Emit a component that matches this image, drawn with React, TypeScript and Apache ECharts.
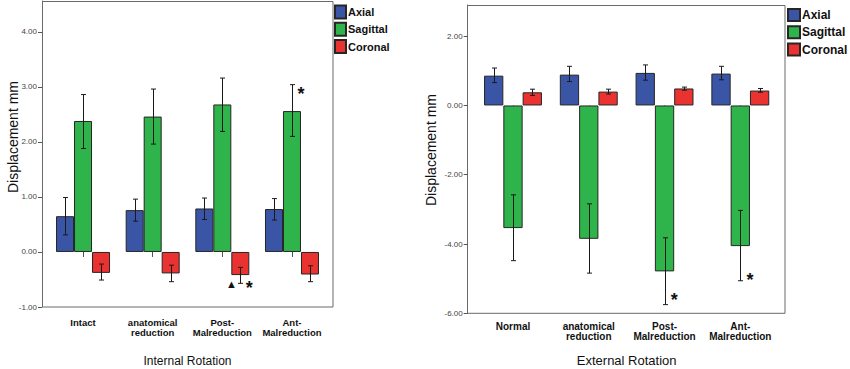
import React, { useEffect, useRef } from "react";
import * as echarts from "echarts";

const seriesNames = ["Axial", "Sagittal", "Coronal"];
const seriesColors = ["#3a55a6", "#2fb34b", "#ea3330"];

const categoriesIR = ["Intact", "anatomical\nreduction", "Post-\nMalreduction", "Ant-\nMalreduction"];
const categoriesER = ["Normal", "anatomical\nreduction", "Post-\nMalreduction", "Ant-\nMalreduction"];

// Internal rotation (means, lower / upper error)
const axialIR = [0.65, 0.76, 0.79, 0.78];
const axialIRLow = [0.31, 0.56, 0.59, 0.58];
const axialIRHigh = [0.99, 0.96, 0.98, 0.97];
const sagittalIR = [2.38, 2.46, 2.68, 2.56];
const sagittalIRLow = [1.88, 1.96, 2.19, 2.1];
const sagittalIRHigh = [2.86, 2.96, 3.16, 3.04];
const coronalIR = [-0.38, -0.39, -0.42, -0.41];
const coronalIRLow = [-0.51, -0.54, -0.57, -0.54];
const coronalIRHigh = [-0.22, -0.24, -0.28, -0.25];

// External rotation
const axialER = [0.86, 0.89, 0.94, 0.92];
const axialERLow = [0.66, 0.69, 0.73, 0.74];
const axialERHigh = [1.08, 1.13, 1.17, 1.13];
const sagittalER = [-3.54, -3.85, -4.79, -4.06];
const sagittalERLow = [-4.48, -4.84, -5.75, -5.06];
const sagittalERHigh = [-2.58, -2.84, -3.82, -3.03];
const coronalER = [0.38, 0.4, 0.49, 0.43];
const coronalERLow = [0.29, 0.33, 0.44, 0.38];
const coronalERHigh = [0.47, 0.47, 0.53, 0.49];

// annotations: [category, value, series, side, symbol]
const annotationsIR: [number, number, number, number, string][] = [
  [3, 2.95, 1, 1, "*"],
  [2, -0.58, 2, -1, "▲"],
  [2, -0.58, 2, 1, "*"],
];
const annotationsER: [number, number, number, number, string][] = [
  [2, -5.49, 1, 1, "*"],
  [3, -4.92, 1, 1, "*"],
];

const yTicksIR = { min: -1, max: 4.56, interval: 1 };
const yTicksER = { min: -6, max: 2.9, interval: 2 };

const FONT = "Liberation Sans";

function errRows(lows: number[][], highs: number[][]) {
  const rows: number[][] = [];
  for (let s = 0; s < 3; s++) {
    for (let c = 0; c < lows[s].length; c++) rows.push([c, lows[s][c], highs[s][c], s]);
  }
  return rows;
}

function errorSeries(idx: number, rows: number[][], barW: number) {
  return {
    type: "custom",
    name: "err" + idx,
    xAxisIndex: idx,
    yAxisIndex: idx,
    z: 5,
    silent: true,
    encode: { x: 0, y: [1, 2] },
    data: rows,
    renderItem: (params: any, api: any) => {
      const c = api.value(0);
      const s = api.value(3);
      const lo = api.coord([c, api.value(1)]);
      const hi = api.coord([c, api.value(2)]);
      const x = Math.round(lo[0] + (s - 1) * barW) + 0.5;
      const cw = 2.5;
      const st = { stroke: "#1a1a1a", lineWidth: 1 };
      return {
        type: "group",
        children: [
          { type: "line", shape: { x1: x, y1: lo[1], x2: x, y2: hi[1] }, style: st },
          { type: "line", shape: { x1: x - cw, y1: lo[1], x2: x + cw, y2: lo[1] }, style: st },
          { type: "line", shape: { x1: x - cw, y1: hi[1], x2: x + cw, y2: hi[1] }, style: st },
        ],
      };
    },
  };
}

function annotationSeries(idx: number, rows: any[], barW: number) {
  return {
    type: "custom",
    name: "ann" + idx,
    xAxisIndex: idx,
    yAxisIndex: idx,
    z: 6,
    silent: true,
    encode: { x: 0, y: 1 },
    data: rows.map((r) => [r[0], r[1], r[2], r[3], r[4] === "*" ? 0 : 1]),
    renderItem: (params: any, api: any) => {
      const c = api.value(0);
      const p = api.coord([c, api.value(1)]);
      const s = api.value(2);
      const side = api.value(3);
      const isStar = api.value(4) === 0;
      const x = p[0] + (s - 1) * barW + side * barW * 0.5;
      return {
        type: "text",
        x,
        y: p[1] + (isStar ? 4 : 0),
        style: {
          text: isStar ? "*" : "▲",
          align: "center",
          verticalAlign: "middle",
          font: isStar ? `bold 18px ${FONT}` : `11px ${FONT}`,
          fill: "#111",
        },
      };
    },
  };
}

export default function App() {
  const ref = useRef<HTMLDivElement>(null);
  useEffect(() => {
    if (!ref.current) return;
    const chart = echarts.init(ref.current, null, { renderer: "svg" });
    const barWL = 18;
    const barWR = 19.3;
    const valsIR = [axialIR, sagittalIR, coronalIR];
    const valsER = [axialER, sagittalER, coronalER];

    const barSeries = (idx: number, vals: number[][], bw: number) =>
      vals.map((v, s) => ({
        type: "bar",
        name: seriesNames[s],
        xAxisIndex: idx,
        yAxisIndex: idx,
        barWidth: bw,
        barGap: "0%",
        data: v,
        itemStyle: { color: seriesColors[s], borderColor: "#262626", borderWidth: 1 },
      }));

    const yAxisBase = (t: any, offset: number) => ({
      type: "value",
      min: t.min,
      max: t.max,
      interval: t.interval,
      offset,
      splitLine: { show: false },
      axisLine: { show: true, lineStyle: { color: "#6a6a6a", width: 1 } },
      axisTick: { show: true, length: 4, lineStyle: { color: "#555" } },
      axisLabel: {
        showMaxLabel: false,
        fontSize: 8,
        color: "#444",
        fontFamily: FONT,
        margin: 5,
        formatter: (v: number) => v.toFixed(2),
      },
    });

    const xAxisBase = (gi: number, cats: string[], name: string, nameGap: number, fs: number, margin: number, lh: number, nfs: number) => ({
      type: "category",
      gridIndex: gi,
      data: cats,
      name,
      nameLocation: "middle",
      nameGap,
      nameTextStyle: { fontSize: nfs, color: "#111", fontFamily: FONT, verticalAlign: "top" },
      axisLine: { show: false },
      axisTick: { show: true, alignWithLabel: true, length: 5, lineStyle: { color: "#555" } },
      axisLabel: {
        interval: 0,
        fontSize: fs,
        fontWeight: "bold",
        color: "#111",
        fontFamily: FONT,
        margin,
        lineHeight: lh,
      },
    });

    const legendBase = (left: number, top: number, iw: number, ih: number, gap: number, fs: number) => ({
      data: seriesNames,
      orient: "vertical",
      left,
      top,
      itemWidth: iw,
      itemHeight: ih,
      itemGap: gap,
      icon: "rect",
      selectedMode: false,
      padding: 0,
      textStyle: { fontSize: fs, fontWeight: "bold", color: "#111", fontFamily: FONT, padding: [0, 0, 0, -3] },
    });

    chart.setOption({
      animation: false,
      backgroundColor: "#ffffff",
      grid: [
        { left: 48.2, top: 1, width: 278.6, height: 306, containLabel: false, outerBoundsMode: "none" },
        { left: 475.1, top: 5, width: 303.1, height: 308.3, containLabel: false, outerBoundsMode: "none" },
      ],
      xAxis: [
        xAxisBase(0, categoriesIR, "Internal Rotation", 48, 9.5, 10, 10, 12),
        xAxisBase(1, categoriesER, "External Rotation", 41, 10, 8, 10, 13),
      ],
      yAxis: [
        { ...yAxisBase(yTicksIR, 6.2), gridIndex: 0 },
        { ...yAxisBase(yTicksER, 7.4), gridIndex: 1 },
      ],
      legend: [legendBase(334, 4.5, 11, 13, 2.3, 11), legendBase(787, 8, 12, 12, 3.3, 12)],
      graphic: [
        {
          type: "rect",
          z: 0,
          shape: { x: 42.5, y: 1.5, width: 290.5, height: 305.5 },
          style: { fill: "none", stroke: "#6a6a6a", lineWidth: 1 },
        },
        {
          type: "rect",
          z: 0,
          shape: { x: 467.5, y: 5.5, width: 317.5, height: 307.8 },
          style: { fill: "none", stroke: "#6a6a6a", lineWidth: 1 },
        },
        {
          type: "text",
          x: 13,
          y: 137,
          rotation: Math.PI / 2,
          style: { text: "Displacement mm", align: "center", verticalAlign: "middle", font: `14px ${FONT}`, fill: "#111" },
        },
        {
          type: "text",
          x: 431,
          y: 150,
          rotation: Math.PI / 2,
          style: { text: "Displacement mm", align: "center", verticalAlign: "middle", font: `14px ${FONT}`, fill: "#111" },
        },
      ],
      series: [
        ...barSeries(0, valsIR, barWL),
        ...barSeries(1, valsER, barWR),
        errorSeries(0, errRows([axialIRLow, sagittalIRLow, coronalIRLow], [axialIRHigh, sagittalIRHigh, coronalIRHigh]), barWL),
        errorSeries(1, errRows([axialERLow, sagittalERLow, coronalERLow], [axialERHigh, sagittalERHigh, coronalERHigh]), barWR),
        annotationSeries(0, annotationsIR, barWL),
        annotationSeries(1, annotationsER, barWR),
      ],
    });
    return () => chart.dispose();
  }, []);
  return <div ref={ref} style={{ position: "fixed", left: 0, top: 0, width: 850, height: 369 }} />;
}
